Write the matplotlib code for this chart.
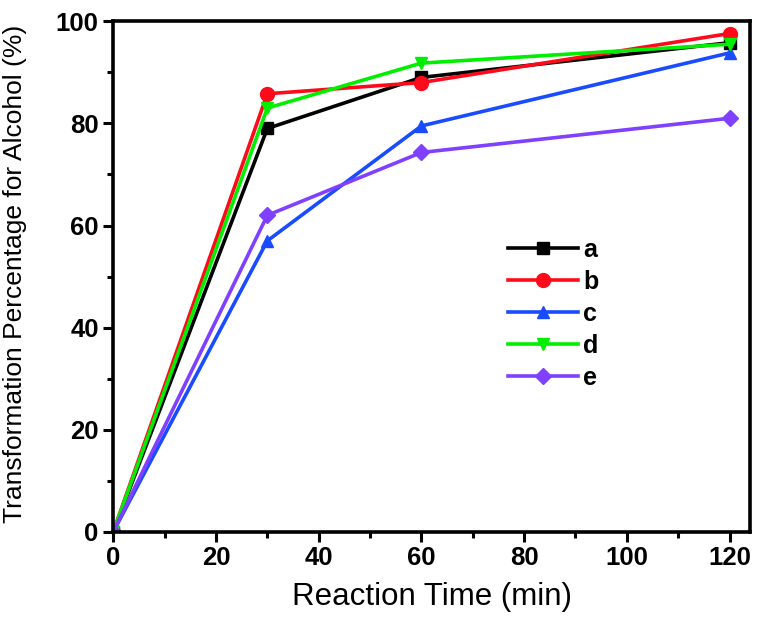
import matplotlib
matplotlib.use('Agg')
import matplotlib.pyplot as plt
from matplotlib.ticker import MultipleLocator

plt.rcParams['font.family'] = ['Liberation Sans', 'DejaVu Sans']

# data
time = [0, 30, 60, 120]
series_a = [0, 79.0, 89.0, 95.8]
series_b = [0, 85.8, 88.0, 97.6]
series_c = [0, 57.0, 79.5, 93.8]
series_d = [0, 83.0, 91.8, 95.5]
series_e = [0, 62.0, 74.3, 81.0]
labels = ['a', 'b', 'c', 'd', 'e']

colors = ['#000000', '#ff0a1a', '#1a4cff', '#00ee00', '#8040ff']
markers = ['s', 'o', '^', 'v', 'D']
sizes = [8, 10, 9, 9, 8]

fig = plt.figure(figsize=(7.6, 6.25), dpi=100)
ax = fig.add_axes([0.149, 0.149, 0.838, 0.817])

for ys, lab, c, m, ms in zip([series_a, series_b, series_c, series_d, series_e],
                             labels, colors, markers, sizes):
    ax.plot(time, ys, color=c, marker=m, markersize=ms, lw=2.6, label=lab)

ax.set_xlim(0, 124)
ax.set_ylim(0, 100)
ax.xaxis.set_major_locator(MultipleLocator(20))
ax.xaxis.set_minor_locator(MultipleLocator(10))
ax.yaxis.set_major_locator(MultipleLocator(20))
ax.yaxis.set_minor_locator(MultipleLocator(10))
ax.tick_params(which='major', direction='out', length=7, width=2.2, labelsize=18.5)
ax.tick_params(which='minor', direction='out', length=4, width=2.2)
for lbl in ax.get_xticklabels() + ax.get_yticklabels():
    lbl.set_fontweight('bold')
for sp in ax.spines.values():
    sp.set_linewidth(2.6)

ax.set_xlabel('Reaction Time (min)', fontsize=22.5, labelpad=8)
ax.set_ylabel('Transformation Percentage for Alcohol (%)', fontsize=19)
ax.yaxis.set_label_coords(-0.135, 0.505)

leg = ax.legend(loc='upper left', bbox_to_anchor=(0.585, 0.62), frameon=False,
                fontsize=18, handlelength=2.8, labelspacing=0.32,
                handletextpad=0.2)
for t in leg.get_texts():
    t.set_fontweight('bold')

fig.savefig('out.png', dpi=100)
